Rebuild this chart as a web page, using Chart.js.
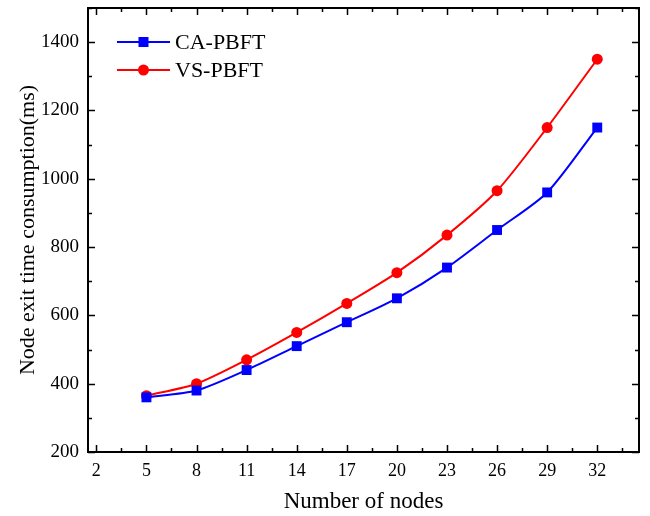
<!DOCTYPE html>
<html>
<head>
<meta charset="utf-8">
<script src="https://cdn.jsdelivr.net/npm/chart.js@4"></script>
<style>
  html, body { margin: 0; padding: 0; background: #fff; }
  #wrap { width: 650px; height: 516px; }
</style>
</head>
<body>
<div id="wrap"><canvas id="chart" width="650" height="516"></canvas></div>
<script>
// values
var nodes = [5, 8, 11, 14, 17, 20, 23, 26, 29, 32];
var caPbft = [360, 380, 440, 510, 580, 650, 740, 850, 960, 1150];
var vsPbft = [365, 400, 470, 550, 635, 725, 835, 965, 1150, 1350];
var xTicks = [2, 5, 8, 11, 14, 17, 20, 23, 26, 29, 32];
var yTicks = [200, 400, 600, 800, 1000, 1200, 1400];

var FONT = "'Liberation Serif', 'Times New Roman', serif";

function toPoints(xs, ys) {
  return xs.map(function (x, i) { return { x: x, y: ys[i] }; });
}

// frame, inside ticks (all four sides) and the legend in the plot
var framePlugin = {
  id: "frame",
  afterDraw: function (chart) {
    var ctx = chart.ctx;
    var a = chart.chartArea;
    var xs = chart.scales.x;
    var ys = chart.scales.y;
    ctx.save();
    ctx.strokeStyle = "#000";
    ctx.lineWidth = 2;
    ctx.strokeRect(a.left, a.top, a.right - a.left, a.bottom - a.top);

    ctx.lineWidth = 1.5;
    ctx.beginPath();
    // x major/minor
    for (var v = 2; v <= 34; v += 1.5) {
      var px = Math.round(xs.getPixelForValue(v)) + 0.5;
      var major = ((v - 2) % 3) === 0;
      var len = major ? 7 : 4;
      ctx.moveTo(px, a.bottom); ctx.lineTo(px, a.bottom - len);
      ctx.moveTo(px, a.top); ctx.lineTo(px, a.top + len);
    }
    // y major/minor
    for (var w = 200; w <= 1500; w += 100) {
      var py = Math.round(ys.getPixelForValue(w)) + 0.5;
      var ymaj = (w % 200) === 0;
      var ylen = ymaj ? 7 : 4;
      ctx.moveTo(a.left, py); ctx.lineTo(a.left + ylen, py);
      ctx.moveTo(a.right, py); ctx.lineTo(a.right - ylen, py);
    }
    ctx.stroke();

    // legend
    var items = chart.data.datasets;
    ctx.font = "22px " + FONT;
    ctx.textBaseline = "middle";
    items.forEach(function (ds, i) {
      var y = a.top + 34 + i * 28;
      var x0 = a.left + 29;
      ctx.strokeStyle = ds.borderColor;
      ctx.lineWidth = 2;
      ctx.beginPath();
      ctx.moveTo(x0, y); ctx.lineTo(x0 + 53, y);
      ctx.stroke();
      ctx.fillStyle = ds.backgroundColor;
      var cx = x0 + 26.5;
      if (ds.pointStyle === "rect") {
        ctx.fillRect(cx - 5, y - 5, 10, 10);
      } else {
        ctx.beginPath();
        ctx.arc(cx, y, 5.5, 0, Math.PI * 2);
        ctx.fill();
      }
      ctx.fillStyle = "#000";
      ctx.fillText(ds.label, x0 + 58, y + 1);
    });
    ctx.restore();
  }
};

var ctx = document.getElementById("chart").getContext("2d");
var myChart = new Chart(ctx, {
  type: "line",
  data: {
    datasets: [
      {
        label: "CA-PBFT",
        data: toPoints(nodes, caPbft),
        borderColor: "#0000ff",
        backgroundColor: "#0000ff",
        borderWidth: 2,
        pointStyle: "rect",
        pointRadius: 7,
        pointBorderWidth: 0,
        tension: 0.25,
        fill: false,
      },
      {
        label: "VS-PBFT",
        data: toPoints(nodes, vsPbft),
        borderColor: "#ff0000",
        backgroundColor: "#ff0000",
        borderWidth: 2,
        pointStyle: "circle",
        pointRadius: 5.5,
        pointBorderWidth: 0,
        tension: 0.25,
        fill: false,
      },
    ],
  },
  options: {
    responsive: false,
    animation: false,
    layout: { padding: { top: 8, right: 11, left: 0, bottom: 0 } },
    plugins: {
      legend: { display: false },
      tooltip: { enabled: false },
    },
    scales: {
      x: {
        type: "linear",
        min: 1.5,
        max: 34.5,
        afterBuildTicks: function (scale) {
          scale.ticks = xTicks.map(function (v) { return { value: v }; });
        },
        afterFit: function (scale) {
          scale.height = 64;
          scale.paddingLeft = 0;
          scale.paddingRight = 0;
        },
        grid: { display: false, drawTicks: false },
        border: { display: false },
        ticks: {
          padding: 8,
          color: "#000",
          font: { family: FONT, size: 18 },
          maxRotation: 0,
        },
        title: {
          display: true,
          text: "Number of nodes",
          color: "#000",
          font: { family: FONT, size: 23 },
          padding: { top: 6, bottom: 0 },
        },
      },
      y: {
        min: 200,
        max: 1500,
        afterBuildTicks: function (scale) {
          scale.ticks = yTicks.map(function (v) { return { value: v }; });
        },
        afterFit: function (scale) {
          scale.width = 88;
          scale.paddingTop = 0;
          scale.paddingBottom = 0;
        },
        grid: { display: false, drawTicks: false },
        border: { display: false },
        ticks: {
          padding: 9,
          color: "#000",
          font: { family: FONT, size: 19 },
          callback: function (v) { return String(v); },
        },
        title: {
          display: true,
          text: "Node exit time consumption(ms)",
          color: "#000",
          font: { family: FONT, size: 22 },
          padding: { top: 15, bottom: 0 },
        },
      },
    },
  },
  plugins: [framePlugin],
});
</script>
</body>
</html>
